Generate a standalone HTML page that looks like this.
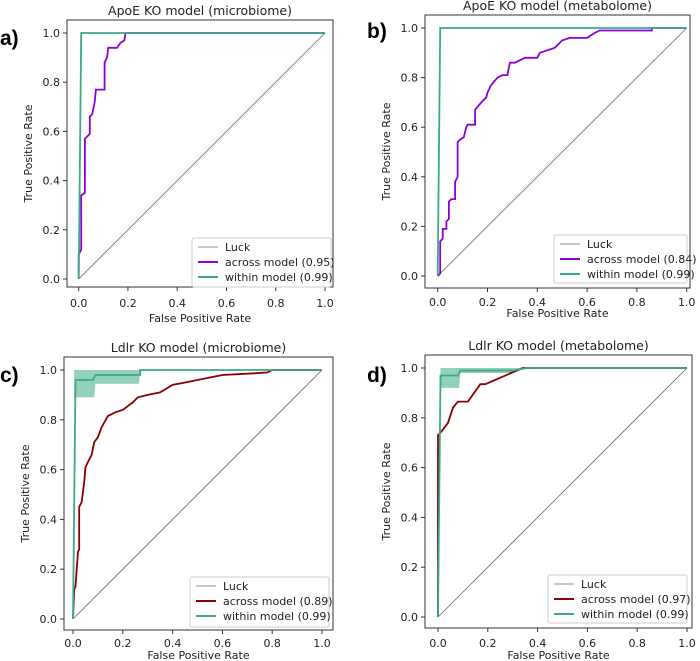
<!DOCTYPE html>
<html><head><meta charset="utf-8"><style>
html,body{margin:0;padding:0;background:#fff;}
svg{display:block;font-family:"DejaVu Sans","Liberation Sans",sans-serif;}
</style></head><body>
<svg id="s" width="700" height="661" viewBox="0 0 700 661" xmlns="http://www.w3.org/2000/svg"></svg>
<script>
const S=document.getElementById('s');
let h='';
const G='#3aaa88',P='#8f00d6',R='#8b0000';
const panels=[
 {b:[67,333,20,287],d:[78.7,325,33,279],tk:307,xl:322,lab:'a)',lx:0,ly:45,t:'ApoE KO model (microbiome)',c:P,auc:'0.95',lg:[192,331,238,287],
  a:[[0,0],[0,.1],[.01,.12],[.01,.34],[.025,.35],[.025,.57],[.045,.59],[.045,.66],[.055,.67],[.065,.72],[.07,.77],[.105,.77],[.105,.88],[.115,.9],[.12,.94],[.155,.94],[.17,.96],[.185,.97],[.19,1],[1,1]],
  g:[[0,0],[.01,1],[1,1]],band:null},
 {b:[425,690,15,288],d:[437.7,686.7,28,276],tk:306,xl:317,lab:'b)',lx:367,ly:38,t:'ApoE KO model (metabolome)',c:P,auc:'0.84',lg:[554,687,235,283],
  a:[[0,0],[.01,.01],[.01,.14],[.02,.15],[.02,.19],[.035,.19],[.035,.22],[.045,.23],[.045,.3],[.055,.31],[.07,.31],[.07,.38],[.08,.4],[.08,.54],[.09,.55],[.105,.56],[.115,.6],[.12,.61],[.15,.61],[.15,.67],[.175,.7],[.195,.72],[.2,.74],[.215,.77],[.24,.8],[.26,.81],[.28,.81],[.29,.86],[.31,.86],[.35,.88],[.4,.88],[.41,.9],[.47,.92],[.5,.95],[.53,.96],[.6,.96],[.63,.98],[.65,.99],[.86,.99],[.86,1],[1,1]],
  g:[[0,0],[.01,1],[1,1]],band:null},
 {b:[64,333,357,630],d:[73,322,370,619],tk:647,xl:659,lab:'c)',lx:0,ly:382,t:'Ldlr KO model (microbiome)',c:R,auc:'0.89',lg:[190,329,577,627],
  a:[[0,0],[.005,.12],[.01,.13],[.015,.2],[.02,.27],[.025,.28],[.025,.45],[.035,.47],[.045,.55],[.05,.61],[.06,.63],[.075,.66],[.085,.71],[.1,.73],[.115,.77],[.14,.815],[.17,.83],[.2,.84],[.24,.87],[.26,.89],[.3,.9],[.35,.91],[.4,.94],[.45,.95],[.5,.96],[.55,.97],[.6,.98],[.7,.985],[.78,.99],[.8,1],[1,1]],
  g:[[0,0],[.01,.96],[.08,.96],[.09,.98],[.27,.98],[.27,1],[1,1]],
  band:[[.005,1],[.27,1],[.265,.945],[.09,.945],[.085,.89],[.005,.89]]},
 {b:[425,692,355,628],d:[438,687,368,617],tk:647,xl:659,lab:'d)',lx:367,ly:382,t:'Ldlr KO model (metabolome)',c:R,auc:'0.97',lg:[548,687,575,623],
  a:[[0,0],[0,.73],[.01,.74],[.04,.78],[.06,.84],[.08,.865],[.12,.865],[.17,.935],[.19,.935],[.34,1],[1,1]],
  g:[[0,0],[.01,.97],[.08,.97],[.09,.99],[.3,.99],[.36,1],[1,1]],
  band:[[.01,1],[.35,1],[.3,.98],[.09,.98],[.085,.92],[.01,.92]]}
];
for(const p of panels){
 const [bx0,bx1,by0,by1]=p.b,[x0,x1,yt,yb]=p.d;
 const X=v=>x0+v*(x1-x0),Y=v=>yb-v*(yb-yt);
 const pts=a=>a.map(q=>X(q[0]).toFixed(1)+','+Y(q[1]).toFixed(1)).join(' ');
 if(p.band)h+=`<polygon points="${pts(p.band)}" fill="${G}" fill-opacity="0.55"/>`;
 h+=`<line x1="${X(0)}" y1="${Y(0)}" x2="${X(1)}" y2="${Y(1)}" stroke="#666" stroke-width="0.8"/>`;
 h+=`<polyline points="${pts(p.a)}" fill="none" stroke="${p.c}" stroke-width="1.8"/>`;
 h+=`<polyline points="${pts(p.g)}" fill="none" stroke="${G}" stroke-width="1.8"/>`;
 h+=`<rect x="${bx0}" y="${by0}" width="${bx1-bx0}" height="${by1-by0}" fill="none" stroke="#333" stroke-width="1"/>`;
 for(let i=0;i<=5;i++){const v=i/5,s=v.toFixed(1);
  h+=`<line x1="${X(v)}" y1="${by1}" x2="${X(v)}" y2="${by1+4}" stroke="#333"/>`;
  h+=`<text x="${X(v)}" y="${p.tk}" font-size="11" text-anchor="middle" fill="#222">${s}</text>`;
  h+=`<line x1="${bx0-4}" y1="${Y(v)}" x2="${bx0}" y2="${Y(v)}" stroke="#333"/>`;
  h+=`<text x="${bx0-7}" y="${Y(v)+4}" font-size="11" text-anchor="end" fill="#222">${s}</text>`;}
 h+=`<text x="${(bx0+bx1)/2}" y="${p.xl}" font-size="11" text-anchor="middle" fill="#222">False Positive Rate</text>`;
 const yc=(by0+by1)/2,xl=bx0-35;
 h+=`<text transform="translate(${xl},${yc}) rotate(-90)" font-size="11" text-anchor="middle" fill="#222">True Positive Rate</text>`;
 h+=`<text x="${(bx0+bx1)/2}" y="${by0-5}" font-size="12.5" text-anchor="middle" fill="#222">${p.t}</text>`;
 h+=`<text x="${p.lx}" y="${p.ly}" font-size="21" font-weight="bold" font-family="Liberation Sans,sans-serif" fill="#000">${p.lab}</text>`;
 const [l0,l1,t0,t1]=p.lg;
 h+=`<rect x="${l0}" y="${t0}" width="${l1-l0}" height="${t1-t0}" rx="2" fill="#fff" fill-opacity="0.85" stroke="#ccc"/>`;
 const rows=[['Luck','#666',0.8],['across model ('+p.auc+')',p.c,2],['within model (0.99)',G,2]];
 rows.forEach((r,i)=>{const yy=t0+9+i*15;
  h+=`<line x1="${l0+6}" y1="${yy}" x2="${l0+26}" y2="${yy}" stroke="${r[1]}" stroke-width="${r[2]}"/>`;
  h+=`<text x="${l0+33}" y="${yy+4}" font-size="11" fill="#222">${r[0]}</text>`;});
}
S.innerHTML=h;
</script>
</body></html>
